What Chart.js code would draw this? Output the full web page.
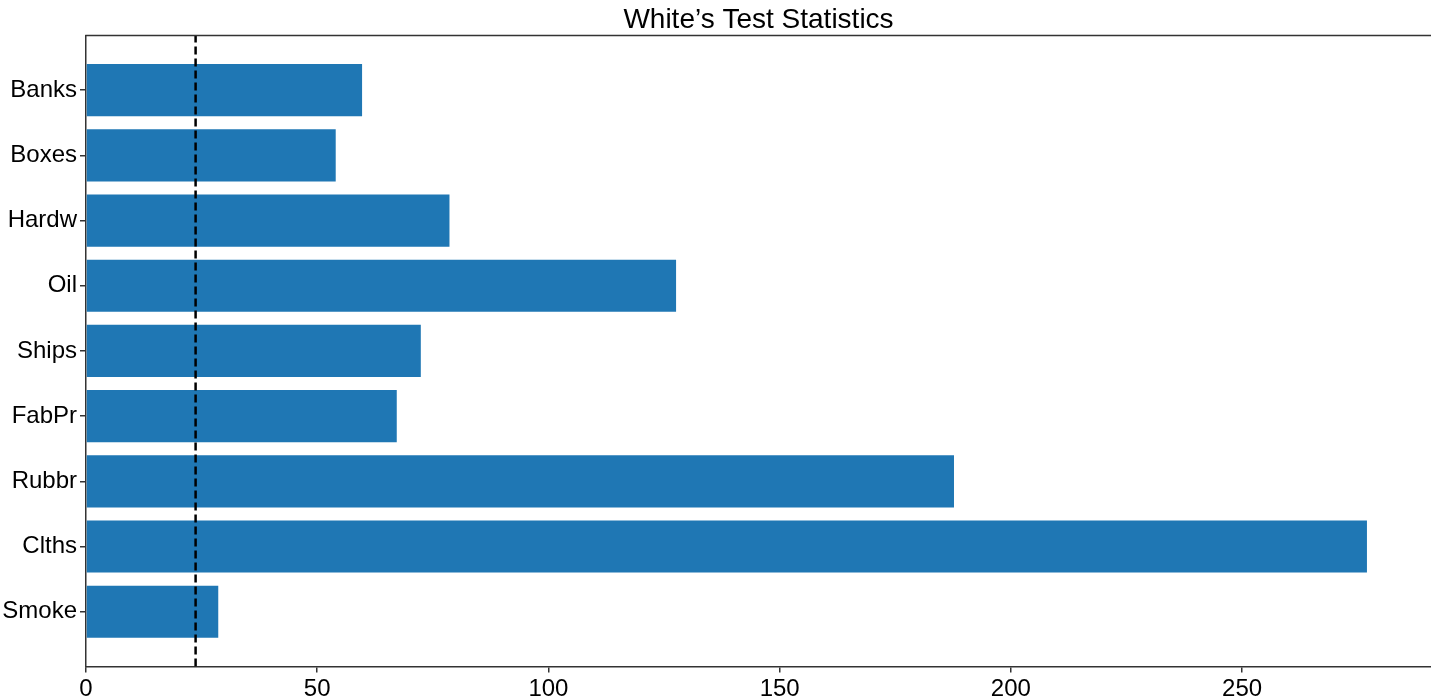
<!DOCTYPE html>
<html>
<head>
<meta charset="utf-8">
<script src="https://cdn.jsdelivr.net/npm/chart.js@4"></script>
<style>
  html, body { margin: 0; padding: 0; background: #fff; }
  #wrap { width: 1431px; height: 697px; }
</style>
</head>
<body>
<div id="wrap"><canvas id="whiteChart"></canvas></div>
<script>
// categories bottom -> top (like the original barh)
const categories = ['Smoke', 'Clths', 'Rubbr', 'FabPr', 'Ships', 'Oil', 'Hardw', 'Boxes', 'Banks'];
const whiteStats = [28.6, 277.0, 187.7, 67.2, 72.4, 127.6, 78.6, 54.0, 59.7];
const criticalValue = 23.7;
const xTicks = [0, 50, 100, 150, 200, 250];

const xMax = 277.0 * 1.05;
const yMin = -0.84, yMax = 8.84;

const font = 'Liberation Sans, Arial, Helvetica, sans-serif';
const spine = '#333333';

const barData = categories.map((c, i) => ({ x: whiteStats[i], y: i }));
const lineData = [{ x: criticalValue, y: yMin }, { x: criticalValue, y: yMax }];

// top spine
const topSpine = {
  id: 'topSpine',
  afterDraw(chart) {
    const { ctx, chartArea } = chart;
    ctx.save();
    ctx.strokeStyle = spine;
    ctx.lineWidth = 1.5;
    ctx.beginPath();
    ctx.moveTo(chartArea.left - 0.75, chartArea.top);
    ctx.lineTo(chartArea.right, chartArea.top);
    ctx.stroke();
    ctx.restore();
  }
};

const ctx = document.getElementById('whiteChart').getContext('2d');
const myChart = new Chart(ctx, {
  type: 'bar',
  data: {
    datasets: [
      {
        type: 'line',
        indexAxis: 'y',
        data: lineData,
        borderColor: '#000',
        borderWidth: 2.5,
        borderDash: [8, 4],
        pointRadius: 0,
        fill: false,
        order: 0,
      },
      {
        data: barData,
        backgroundColor: '#1f77b4',
        borderWidth: 0,
        categoryPercentage: 1,
        barPercentage: 0.8,
        order: 1,
      },
    ],
  },
  options: {
    indexAxis: 'y',
    responsive: true,
    maintainAspectRatio: false,
    animation: false,
    layout: { padding: { left: 0, right: 0, top: 0, bottom: 0 } },
    plugins: {
      legend: { display: false },
      tooltip: { enabled: false },
      title: {
        display: true,
        fullSize: false,
        text: 'White\u2019s Test Statistics',
        color: '#000',
        font: { family: font, size: 28, weight: 'normal', lineHeight: 1.05 },
        padding: { top: 6, bottom: 0 },
      },
    },
    scales: {
      x: {
        type: 'linear',
        min: 0,
        max: xMax,
        afterBuildTicks: scale => { scale.ticks = xTicks.map(v => ({ value: v })); },
        afterFit: scale => { scale.height = 30.5; },
        ticks: {
          color: '#000',
          font: { family: font, size: 24 },
          padding: 2,
          maxRotation: 0,
        },
        grid: { drawOnChartArea: false, drawTicks: true, tickLength: 6, color: spine, lineWidth: 1.5 },
        border: { display: true, color: spine, width: 1.5 },
      },
      y: {
        type: 'linear',
        min: yMin,
        max: yMax,
        offset: false,
        afterBuildTicks: scale => { scale.ticks = categories.map((c, i) => ({ value: i })); },
        afterFit: scale => { scale.width = 86; },
        ticks: {
          color: '#000',
          font: { family: font, size: 24 },
          padding: 3,
          callback: v => categories[v],
        },
        grid: { offset: false, drawOnChartArea: false, drawTicks: true, tickLength: 6, color: spine, lineWidth: 1.5 },
        border: { display: true, color: spine, width: 1.5 },
      },
    },
  },
  plugins: [topSpine],
});
</script>
</body>
</html>
